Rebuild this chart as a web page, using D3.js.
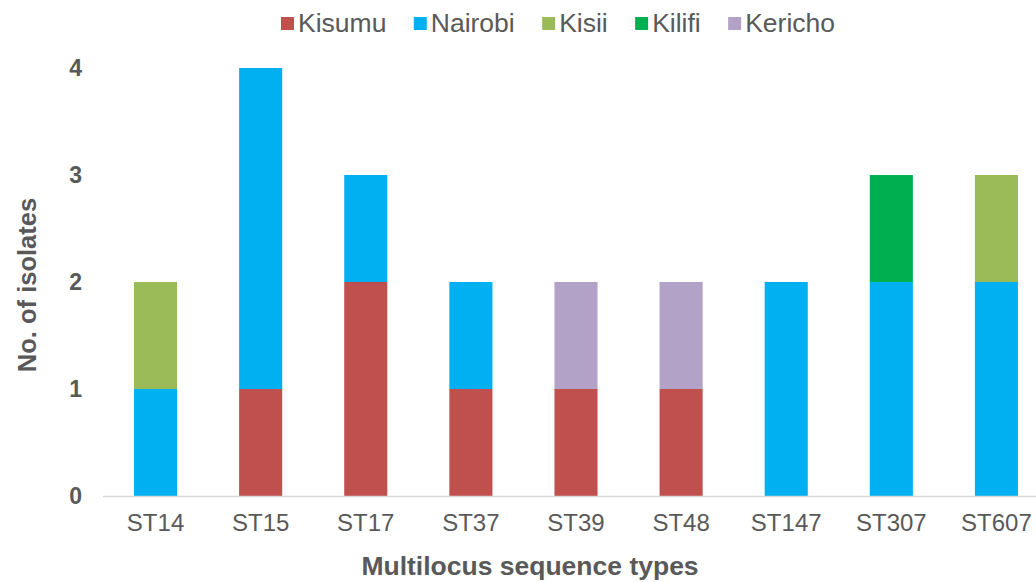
<!DOCTYPE html>
<html><head><meta charset="utf-8">
<script src="https://cdn.jsdelivr.net/npm/d3@7"></script>
<style>body{margin:0;background:#fff}svg{display:block}</style>
</head><body>
<script>
const categories = ["ST14","ST15","ST17","ST37","ST39","ST48","ST147","ST307","ST607"];
const seriesNames = ["Kisumu","Nairobi","Kisii","Kilifi","Kericho"];
const kisumu  = [0,1,2,1,1,1,0,0,0];
const nairobi = [1,3,1,1,0,0,2,2,2];
const kisii   = [1,0,0,0,0,0,0,0,1];
const kilifi  = [0,0,0,0,0,0,0,1,0];
const kericho = [0,0,0,0,1,1,0,0,0];
const yTicks = [0,1,2,3,4];
const colors = ["#C0504D","#00B0F0","#9BBB59","#00B050","#B2A2C7"];

const W=1036,H=582;
const svg=d3.select("body").append("svg").attr("width",W).attr("height",H);
const rows=categories.map((c,i)=>({cat:c,Kisumu:kisumu[i],Nairobi:nairobi[i],Kisii:kisii[i],Kilifi:kilifi[i],Kericho:kericho[i]}));
const stack=d3.stack().keys(seriesNames)(rows);
const x=d3.scaleBand().domain(categories).range([103,1049]).paddingInner(0.59).paddingOuter(0.295);
const y=d3.scaleLinear().domain([0,4]).range([496,68]);
const color=d3.scaleOrdinal().domain(seriesNames).range(colors);

svg.append("g").selectAll("g").data(stack).join("g").attr("fill",d=>color(d.key))
 .selectAll("rect").data(d=>d.filter(p=>p[1]-p[0]>0)).join("rect")
 .attr("x",d=>x(d.data.cat)).attr("width",x.bandwidth())
 .attr("y",d=>y(d[1])).attr("height",d=>y(d[0])-y(d[1]));

svg.append("line").attr("x1",103).attr("x2",W).attr("y1",y(0)+0.5).attr("y2",y(0)+0.5).attr("stroke","#D9D9D9").attr("stroke-width",1.5);

const font="'Liberation Sans', Arial, sans-serif";
svg.append("g").selectAll("text").data(yTicks).join("text")
 .attr("x",82).attr("y",d=>y(d)).attr("dy","0.36em").attr("text-anchor","end")
 .attr("font-family",font).attr("font-size",23).attr("font-weight","bold").attr("fill","#595959").text(d=>d);

svg.append("g").selectAll("text").data(categories).join("text")
 .attr("x",d=>x(d)+x.bandwidth()/2).attr("y",531).attr("text-anchor","middle")
 .attr("font-family",font).attr("font-size",24).attr("fill","#595959").text(d=>d);

svg.append("text").attr("x",530).attr("y",575).attr("text-anchor","middle")
 .attr("font-family",font).attr("font-size",26.5).attr("font-weight","bold").attr("fill","#595959").text("Multilocus sequence types");

svg.append("text").attr("transform","translate(36,285) rotate(-90)").attr("text-anchor","middle")
 .attr("font-family",font).attr("font-size",25.5).attr("font-weight","bold").attr("fill","#595959").text("No. of isolates");

// legend spanning roughly 281..835
const legStart=281, legEnd=835, sq=13, sqGap=4;
const lg=svg.append("g").selectAll("g").data(seriesNames).join("g");
lg.append("rect").attr("x",0).attr("y",17).attr("width",sq).attr("height",sq).attr("fill",d=>color(d));
const lt=lg.append("text").attr("x",sq+sqGap).attr("y",32).attr("font-family",font).attr("font-size",26.5).attr("fill","#595959").text(d=>d);
const widths=lt.nodes().map(n=>n.getComputedTextLength());
const totalText=d3.sum(widths)+seriesNames.length*(sq+sqGap);
const gap=(legEnd-legStart-totalText)/(seriesNames.length-1);
let cx=legStart; const pos=[];
widths.forEach(w=>{pos.push(cx); cx+=sq+sqGap+w+gap;});
lg.attr("transform",(d,i)=>`translate(${pos[i]},0)`);
</script>
</body></html>
